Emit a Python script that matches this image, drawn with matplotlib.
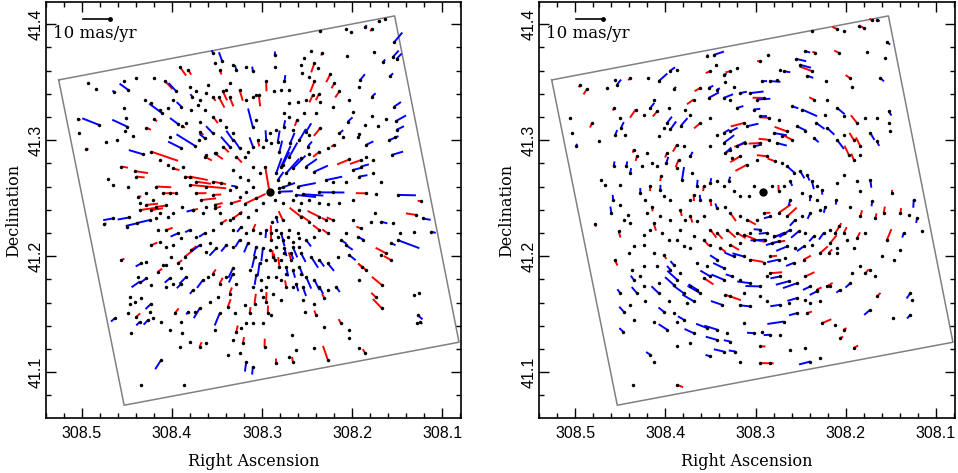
import numpy as np
import matplotlib
matplotlib.use("Agg")
import matplotlib.pyplot as plt
from matplotlib.collections import LineCollection
from matplotlib.ticker import MultipleLocator, FormatStrFormatter

# cluster centre (deg) and drawing scale of the vectors
RA0, DEC0 = 308.2917, 41.2554
ARCSEC_PER_MASYR = 8.0

# outline of the observed field (deg)
field_ra = [308.5259, 308.1527, 308.0812, 308.4532, 308.5259]
field_dec = [41.3520, 41.4072, 41.1259, 41.0716, 41.3520]

# left panel: star offsets from the centre (arcsec, east / north) and radial proper motion (mas/yr)
rad_xi = [
    -330, -347, -288, -308, -230, -245, -152, -375, -313, -233,
    -370, -382, -158, -125, -103, -95, -340, -363, -273, -270,
    -308, -375, -380, -382, -350, -308, -325, -240, -210, -195,
    -183, -135, -145, -135, -98, -120, -148, -130, -152, -190,
    -250, -235, -270, -360, -378, -368, -288, -290, -265, -220,
    -210, -193, -175, -150, -120, -152, -120, -110, -90, -62,
    -70, -83, -60, -45, -43, -25, -20, 0, -105, -140,
    -275, -240, -290, -275, -310, -250, -135, -110, -170, -192,
    -230, -310, -270, -85, -102, -150, -30, -190, -290, -320,
    -335, -385, -455, -250, -210, -175, -150, -120, -95, -318,
    -305, -335, -370, -440, -460, -485, -435, -385, -365, -275,
    -250, -265, -280, -230, -215, -230, -240, -190, -170, -150,
    -350, -365, -335, -278, -290, -338, -270, -320, -338, -435,
    -448, -445, -452, -443, -393, -95, -120, -150, -175, -85,
    -110, -135, -60, -40, -20, -35, -70, -95, -125, -150,
    -175, -205, -65, -45, -90, -110, -135, -150, -175, -200,
    -80, -50, -30, -15, -5, -20, -8, -100, -135, -165,
    -108, -140, -215, -240, -165, -175, -135, -270, -288, -240,
    -80, -68, 13, 75, 110, 85, 70, 50, 30, 10,
    -5, -25, -40, -55, -70, -90, 90, 65, 40, 20,
    0, -20, -45, -65, -90, 110, 130, 160, 180, 190,
    45, 30, 10, -10, -35, -50, -70, -95, 60, 40,
    25, 5, -20, -35, -50, -70, -100, 50, 25, 10,
    -10, -35, 120, 145, 170, 195, 220, 240, 265, 290,
    210, 235, 255, 275, 295, 312, 265, 250, 265, 290,
    230, 200, 185, 170, 150, 130, 110, 100, 120, 155,
    180, 210, 225, 150, 165, 125, 105, 75, 60, 45,
    20, 10, 5, -5, 50, 20, 70, 85, 100, 110,
    80, 90, 70, 50, 15, -20, -60, -70, 210, 190,
    240, 270, 125, 498, 470, 422, 427, 398, 360, 340,
    330, 355, 340, 370, 390, 335, 310, 275, 355, 330,
    310, 445, 385, 372, 370, 395, 390, 355, 320, 335,
    300, 310, 418, 420, 403, 385, 355, 360, 425, 400,
    465, 415, 390, 365, 350, 325, 300, 285, 265, 245,
    262, 325, 385, 257, 577, 572, 552, 492, 458, 512,
    428, 435, 410, 370, 322, 348, 275, 225, 262, 250,
    300, 265, 212, 195, 170, 210, 190, 160, 140, 120,
    110, 90, 100, 75, 65, 50, 35, 20, 10, -5,
    50, 40, 130, 110, 150, 170, 195, 215, 235, 265,
    290, 305, 330, 355, 375, 210, 545, 522, 467, 438,
    425, 400, 347, 438, 430, 315, 280, 270, 245, 238,
    220, 232, 210, 185, 152, 130, 120, 170, 90, 50,
    40, 32, 10, -12, 170, 142, 165, 150, 110, 100,
    70, 50, -15, -16, -45, -35, -60, -58, -85, -110,
    120, 140, 70, 190, -35, -50, -70, -60, -95, -115,
    50, 30, 65, 90, 110, -25, -40, -60, 20, 40,
    65, 90, -15, -40, -70, -90, 485, 470, 425, 445,
    405, 400, 380, 355, 330, 305, 290, 260, 255, 240,
    220, 170, 145, 240, 340, 320, 300, 280, 370, 395,
    390, 350, 220, 205, 170, 120, 100, 90, 70, 50,
    40, 115, 190, 165, 150, 200, 230, 262, 290, 312,
    305, 190, 165, 110, 230, 165, 195, -30, -80, -40,
    -20, -30, 110,
]
rad_eta = [
    532, 536, 511, 507, 505, 496, 500, 465, 436, 423,
    418, 413, 431, 438, 415, 394, 402, 360, 348, 326,
    296, 265, 220, 193, 226, 236, 205, 286, 312, 337,
    366, 343, 384, 400, 368, 356, 303, 301, 280, 265,
    249, 218, 179, 161, 172, 115, 208, 146, 172, 172,
    182, 146, 136, 125, 118, 198, 177, 187, 161, 151,
    193, 224, 234, 244, 203, 156, 193, 182, 244, 244,
    99, 101, 110, 79, 99, 68, 63, 79, 37, 32,
    32, 58, 48, 17, -7, -1, 1, 1, -4, -6,
    32, -9, -28, -25, -35, -37, -35, -25, -35, -66,
    -92, -92, -97, -71, -82, -123, -123, -149, -159, -113,
    -87, -139, -149, -128, -149, -165, -196, -87, -87, -77,
    -190, -211, -196, -232, -242, -289, -273, -327, -361, -320,
    -313, -382, -403, -408, -128, -77, -92, -118, -128, -128,
    -149, -139, -118, -87, -77, -128, -170, -190, -201, -211,
    -221, -201, -211, -190, -232, -263, -273, -294, -304, -294,
    -284, -253, -232, -211, -149, -118, -92, -335, -346, -330,
    -372, -382, -408, -428, -418, -520, -485, -485, -501, -454,
    -491, -444, 79, -37, -118, -108, -128, -118, -128, -118,
    -128, -139, -149, -139, -154, -144, -149, -159, -170, -175,
    -180, -170, -175, -190, -170, -170, -165, -175, -159, -185,
    -201, -221, -211, -201, -211, -232, -242, -253, -242, -258,
    -273, -263, -263, -273, -294, -294, -294, -294, -304, -294,
    -315, -335, -87, -97, -118, -128, -139, -118, -144, -165,
    -165, -180, -201, -221, -201, -227, -237, -263, -284, -284,
    -304, -273, -263, -253, -284, -263, -253, -284, -315, -325,
    -341, -361, -372, -377, -428, -356, -377, -351, -377, -346,
    -325, -341, -377, -382, -408, -408, -408, -423, -434, -460,
    -470, -501, -527, -542, -480, -532, -511, -527, -480, -470,
    -465, -480, -506, -99, -82, -79, -108, -97, -87, -82,
    -66, -56, -46, -40, -56, -118, -118, -128, -165, -154,
    -170, -211, -221, -216, -268, -263, -278, -289, -227, -247,
    -268, -294, -325, -346, -341, -330, -346, -372, -377, -387,
    -392, -439, -403, -397, -392, -403, -428, -377, -403, -372,
    -439, -520, -599, -599, 227, 182, 134, 156, 161, 208,
    203, 189, 174, 200, 244, 226, 211, 144, 205, 215,
    172, 136, 161, 167, 182, 187, 115, 120, 141, 141,
    161, 136, 110, 110, 125, 141, 161, 141, 161, 151,
    201, 224, 203, 182, 224, 234, 255, 270, 255, 265,
    286, 260, 255, 275, 286, 218, 337, 319, 311, 346,
    317, 353, 353, 260, 229, 345, 312, 389, 379, 325,
    312, 296, 286, 332, 294, 317, 294, 296, 317, 296,
    301, 301, 343, 312, 431, 405, 400, 379, 394, 379,
    389, 374, 389, 424, 343, 317, 317, 275, 280, 286,
    337, 312, 286, 306, 79, 58, 73, 110, 105, 141,
    79, 58, 37, 48, 68, 37, 17, 27, -35, -56,
    -77, -66, -25, -35, -25, -56, 39, 22, 17, 79,
    65, 48, 117, 125, 99, 84, 73, 79, 48, 48,
    32, 32, 27, 22, 17, -4, -4, -4, -4, -14,
    -35, -25, -4, -25, -9, 6, 17, -14, 1, 17,
    -20, -35, -46, -51, -66, -66, -56, -46, -66, -40,
    -77, 17, -40, -82, -56, 120, 110, 11, -9, 84,
    58, 125, -237,
]
rad_pm = [
    0.8, 0, -1.0, 1.2, 0, 0, 0, -4.8, 0, 0,
    -3.5, -2.8, 1.0, 0, 0, 0, -1.5, -1.5, -2.8, 0,
    -1.9, -3.1, -4.4, -3.1, 0, 0, 0, 0, 2.8, 2.2,
    3.5, 4.4, 0, 3.8, 0, 0, 2.5, 3.1, 0, 0,
    0, -2.5, 0, -3.8, 0, -4.4, 0, -3.1, 0, 0,
    -1.9, 1.2, 0, 3.1, 0, 3.8, 0, -3.8, -5.0, -4.4,
    0, 2.5, 0, 0, -2.5, -4.4, 0, 0, 0, 0,
    4.4, 5.0, 0, -3.1, 0, -3.8, -5.6, -5.0, -6.2, 0,
    0, 0, -3.1, -6.9, -7.5, -9.4, -5.0, 0, 3.8, 0,
    0, -6.9, 1.2, 0, 0, 0, 0, 0, 0, 0,
    0, -2.5, 0, 3.8, -3.1, -1.9, 0, -8.8, -1.9, 1.9,
    0, -2.5, 0, 0, -2.5, -3.1, -3.1, 2.5, 1.9, 5.0,
    4.4, 3.1, 0, 1.9, 3.8, 5.0, 0, 2.5, 5.0, 0,
    0, -2.5, -1.2, 0, 0, 5.6, 3.8, 3.1, 2.5, 0,
    -3.1, 0, 0, 3.8, -2.5, -3.8, -4.4, -3.8, -5.0, -3.1,
    -3.8, 0, 3.1, 0, -3.8, -5.0, -4.4, -3.1, 0, -2.5,
    -3.1, 0, 3.8, 2.5, 5.0, 0, 0, 0, 0, 1.9,
    0, 1.9, 1.9, 0, 0, 5.6, 0, 0, 1.9, 0,
    0, 0, 9.4, 8.8, 0, -2.5, 0, 2.5, 0, -3.1,
    3.1, 0, -2.5, 0, 0, 0, -3.1, -3.8, -3.8, -5.0,
    0, 0, -3.1, -2.5, 0, 0, -3.1, -3.8, 0, 0,
    -4.4, -5.0, 0, 2.5, 0, -3.8, -3.1, 0, 0, -3.8,
    0, 0, 0, 0, 2.5, 0, -3.8, 0, 0, 0,
    0, 0, 0, 2.5, 0, -2.5, 0, -1.9, 0, 0,
    -3.8, 2.5, 3.1, 1.9, 0, 0, 0, -3.8, -2.5, 0,
    -1.9, -3.8, 0, 1.9, 2.5, 0, -3.8, 0, 2.5, 0,
    0, -4.4, 0, -5.0, 0, 3.1, 0, 0, 2.5, 3.8,
    0, 3.8, 3.1, 0, 0, 0, 0, 0, 2.5, 0,
    2.5, 0, -3.8, -3.1, 3.1, 1.9, 0, 1.9, 1.9, 0,
    0, 0, 0, 1.0, -3.8, -4.4, 0, -4.4, -5.0, 0,
    0, 4.4, 3.8, 4.4, 6.2, 0, 2.5, -3.1, 2.5, 0,
    0, 1.2, -2.5, 0, -3.1, 0, -3.8, 0, 0, 1.9,
    -2.5, 0, 0, 0, 0, 0, -3.1, 0, 0, 1.9,
    -1.9, 0, -1.9, -2.5, 0, 0, 0, 2.5, 0, -1.2,
    0, -4.4, 0, 0, 1.2, 0, 1.0, 0, 0, -6.9,
    -6.2, 0, 0, 1.9, -6.2, 1.5, -3.8, -8.1, 1.2, 0,
    0, -5.6, 0, -2.5, -3.8, 1.9, 0, 0, 3.1, -5.0,
    -4.4, -3.8, 3.1, 0, 0, -3.8, 2.5, 0, -3.8, 0,
    -7.5, 0, 0, 0, 0, 3.1, 0, 0, 0, -2.5,
    0, 0, 0, 0, 0, 0, 0, 0, -0.8, 0,
    -4.0, 0, 0, 0, 0, 4.4, -4.4, 4.2, 2.2, 0,
    0, -1.2, 0, 0, 4.5, 0, 3.8, 1.9, 4.4, 0,
    0, 4.4, 3.8, 0, -1.2, -3.8, 0, 1.9, 0, -1.9,
    0, -1.9, 0, -1.5, -2.5, 0, 0, 0, 0, 0,
    0, 3.8, 0, 0, -8.8, -7.5, -6.9, -6.2, 0, -2.5,
    0, 0, 0, 0, 0, -3.8, 0, 0, 0, 0,
    0, 0, 0, 0, 0, 0, 0, 0, 0, 2.5,
    5.0, 3.1, -5.6, 10.6, 0, 0, 2.5, 0, 3.1, 6.9,
    5.6, 5.0, 0, 6.2, 5.6, 4.4, 0, 0, 0, 1.2,
    0, 0, 3.8, 5.6, 3.1, 0, -1.9, 0, 0, 0,
    0, 3.8, 0, 2.5, 0, 0, 1.9, 0, 0, 0,
    0, 7.5, 3.1, 4.4, -2.5, 3.8, 3.1, -6.2, -7.5, -5.6,
    -6.2, -4.4, -4.0,
]

# right panel: star offsets (arcsec, east / north) and tangential proper motion (mas/yr)
tan_xi = [
    -327, -342, -287, -302, -222, -242, -147, -372, -312, -227,
    -367, -127, -157, -100, -110, -147, -132, -190, -260, -267,
    -352, -50, -62, -15, 8, 78, 98, 118, 168, 146,
    140, 158, 188, 163, 138, 118, 163, 208, 258, 280,
    268, 313, 346, 398, 443, 468, 438, 528, 548, 578,
    573, 560, 493, 513, 446, 430, 426, 443, 413, 382,
    356, 328, 338, 318, 283, 288, 278, 298, 313, 233,
    246, 218, 113, 88, 68, 38, 18, -4, -22, -42,
    3, 98, 78, 28, 8, -17, -47, 58, 48, 98,
    118, 138, 118, 158, 188, 158, -87, -117, -152, -192,
    -222, -242, -187, -160, -192, -222, -242, -282, -307, -272,
    -292, -257, -272, -292, -342, -377, -382, -377, -322, -342,
    -152, -127, -102, -72, -87, -57, -32, -42, -17, 8,
    28, 53, 78, 98, 113, 93, 68, 48, 18, -12,
    -37, -57, -72, -92, -112, -132, -147, -162, -177, -82,
    -62, -47, -27, 28, 43, 68, 88, 103, 118, 138,
    158, 178, 198, 208, 218, 188, 158, 138, 113, 98,
    68, 48, 18, -2, -22, -47, -72, -97, -117, -142,
    -172, -187, -82, -117, -142, -162, 158, 138, 108, 78,
    58, 38, 8, -12, -32, -62, -82, -107, -127, -152,
    -182, 178, 158, 128, 98, 68, 28, -7, -27, -47,
    -72, -97, -122, -147, -172, -202, -217, -202, -222, 88,
    58, 38, -2, -22, -47, -67, -92, -122, 138, 118,
    168, 198, 158, 118, 93, 68, 38, 8, -12, -22,
    -52, -77, -102, -127, -142, -162, 178, 113, 198, 218,
    258, 248, 278, 268, 238, 208, 228, 188, 123, 98,
    58, 68, 38, 8, -12, -52, -77, -102, -127, -162,
    -192, 388, 418, 428, 398, 378, 358, 353, 388, 368,
    313, 313, 283, 268, 298, 328, 288, 420, 258, 238,
    208, 168, 138, 108, 138, 98, 118, 83, 158, 218,
    258, 58, 28, 3, 8, -22, -52, -62, -102, -142,
    -132, -172, -177, -217, -242, -232, -82, -127, -142, -172,
    68, 8, -22, 338, 328, 390, 258, -272, 486, 473,
    448, 428, 410, 398, 450, 455, 428, 405, 400, 418,
    503, 433, 445, 403, 388, 358, 368, 353, 338, 333,
    308, 298, 278, 318, 306, 363, 388, 378, 348, 333,
    288, 290, 258, 238, 253, 218, 243, 213, 258, 248,
    233, 218, 198, 178, 208, 248, 278, 308, 328, 348,
    338, 303, 283, 258, 238, 218, 358, 328, 298, 268,
    318, 358, 393, -322, -327, -282, -292, -242, -222, -220,
    -262, -292, -337, -362, -387, -412, -437, -452, -462, -422,
    -477, -372, -357, -392, -412, -307, -282, -272, -252, -242,
    -227, -307, -322, -337, -292, -342, -322, -267, -262, -442,
    -447, -390, -442, -202, -232, -222, -197,
]
tan_eta = [
    533, 535, 514, 509, 506, 499, 501, 465, 434, 432,
    416, 437, 432, 413, 395, 375, 361, 344, 354, 326,
    354, 380, 375, 426, 406, 385, 375, 364, 423, 426,
    395, 375, 323, 323, 318, 292, 292, 287, 380, 375,
    320, 344, 354, 354, 349, 323, 333, 320, 333, 230,
    183, 142, 157, 214, 261, 230, 199, 178, 178, 256,
    240, 287, 261, 250, 261, 214, 194, 199, 173, 256,
    206, 240, 341, 326, 307, 307, 287, 292, 344, 349,
    344, 287, 261, 256, 235, 230, 225, 214, 204, 188,
    183, 178, 152, 142, 214, 230, 266, 256, 287, 287,
    261, 235, 240, 214, 199, 162, 178, 214, 230, 162,
    142, 116, 100, 116, 157, 214, 188, 250, 183, 230,
    168, 188, 204, 188, 162, 173, 183, 152, 162, 152,
    142, 152, 142, 131, 121, 106, 111, 85, 100, 111,
    95, 90, 80, 59, 64, 54, 33, 18, 7, 33,
    18, 2, 18, 18, -13, -13, 2, 33, 18, 33,
    28, 18, 18, -8, -24, -24, -24, -50, -45, -65,
    -76, -86, -86, -65, -76, -65, -76, -86, -76, -65,
    -55, -45, -24, -3, -13, -24, -117, -127, -117, -127,
    -132, -127, -117, -127, -138, -127, -117, -122, -127, -138,
    -127, -148, -164, -174, -164, -158, -148, -148, -158, -153,
    -169, -174, -169, -164, -189, -158, -127, -117, -174, -200,
    -200, -210, -220, -200, -210, -205, -220, -210, -210, -236,
    -231, -220, -262, -272, -262, -272, -283, -293, -262, -252,
    -262, -277, -283, -262, -293, -303, -267, -319, -303, -293,
    -272, -252, -241, -288, -314, -339, -345, -314, -350, -324,
    -314, -350, -355, -324, -339, -350, -345, -329, -334, -308,
    -293, -396, -371, -314, -350, -314, -293, -339, -272, -262,
    -283, -314, -339, -376, -371, -402, -427, -433, -402, -396,
    -438, -422, -427, -438, -459, -464, -495, -495, -510, -469,
    -479, -407, -438, -433, -479, -443, -443, -402, -376, -345,
    -376, -339, -407, -412, -427, -453, -490, -484, -526, -515,
    -526, -531, -531, -505, -526, -598, -598, -484, 38, 23,
    80, 23, 80, 59, -24, -65, -39, -70, -96, -86,
    -98, -122, -210, -189, -169, -132, -3, -24, 18, -45,
    7, -13, -24, 80, 49, 80, 131, 111, 121, 90,
    121, 90, 147, 142, 100, 111, 38, 59, 75, -55,
    -86, -76, -91, -76, -138, -117, -86, -76, -96, -65,
    -117, -127, -148, -148, -169, -174, -164, -189, -195, -226,
    -231, -231, -241, 38, -29, 33, 2, 54, 28, -24,
    -45, -76, -81, -65, -3, -65, -70, -24, -81, -127,
    -122, -148, -200, -210, -179, -127, -143, -174, -148, -127,
    -107, -252, -241, -262, -231, -324, -365, -252, -283, -314,
    -334, -391, -381, -293, -303, -189, -189,
]
tan_pm = [
    1.2, -1.2, -1.0, 1.2, 1.9, 0, 0, -1.5, 0, 1.9,
    0, -1.9, 1.2, -3.8, -4.4, 5.0, -2.5, 0, 1.9, 0,
    -1.9, 0, -2.5, 0, 1.2, 0, 1.9, -1.2, -0.6, -3.8,
    0, 1.9, 2.5, -1.9, -1.2, -3.8, -4.4, 3.1, 0, -2.5,
    -1.2, -4.4, 0, 1.2, 0, 0, -2.5, 2.5, 1.2, 0,
    0, -1.0, 0, 1.9, 1.2, 0, -2.5, -1.9, 0, 3.8,
    0, 0, -2.5, 2.5, 0, -3.1, -3.8, 0, 0, 0,
    -3.8, 0, 0, 0, -2.5, -5.0, -5.0, 4.4, -3.8, 0,
    -1.9, 0, -2.5, -2.5, -2.5, 3.1, 0, 5.0, -4.4, -3.1,
    -2.5, 0, -5.0, 0, 3.1, 0, -2.5, -6.2, 1.9, 0,
    -3.8, 0, 0, -3.8, -3.8, -4.4, 0, 3.8, 0, 3.1,
    3.8, 3.8, 2.5, 0, -1.9, 0, 0, -1.9, -3.1, 0,
    -2.5, 0, -3.8, 5.0, 3.8, 0, -5.0, -3.8, 3.8, 4.4,
    -3.1, 4.4, -3.8, 2.5, -3.1, 0, 4.4, 5.0, 0, 3.8,
    3.1, 0, -3.8, 0, -3.1, -2.5, -3.1, 0, -1.9, -1.9,
    0, 2.5, 0, 0, 0, 0, 0, -1.9, 0, 0,
    -1.9, 1.9, -2.5, 2.5, 0, -1.9, 2.5, -1.9, 0, 3.8,
    0, 3.8, 0, 2.5, -2.5, 5.6, 5.0, -3.1, 0, -2.5,
    0, -2.5, -2.5, 0, -1.9, 0, 3.8, 3.1, 4.4, 3.8,
    5.0, 0, -2.5, -3.1, 5.0, -4.4, -5.0, -3.8, 0, -2.5,
    -3.1, 3.1, 0, 2.5, 3.8, 0, 4.4, -5.6, 5.0, -5.0,
    -4.4, 0, -3.1, 0, 3.8, 3.8, 4.4, 0, 0, -3.8,
    -4.4, 5.0, 0, 2.5, -4.4, 0, -3.1, 3.1, -3.1, -4.4,
    0, 0, -4.4, -5.0, -2.5, 0, -5.0, -5.6, 0, 4.4,
    -3.8, -5.0, -5.6, 3.8, -3.1, 1.9, 4.4, 6.2, -3.8, 0,
    -5.0, 0, -1.9, -4.4, -5.0, -5.0, 0, -5.6, -4.4, 0,
    0, 0, -3.8, 0, 0, -3.8, 0, -3.8, 0, -3.1,
    2.5, 0, -2.5, -1.9, 0, -3.1, 0, 0, -1.9, 0,
    0, -3.8, 0, 0, -2.5, 0, -3.8, -1.9, 0, -2.5,
    -3.8, -4.4, -5.0, 0, -4.4, -2.5, -3.8, -2.5, -1.9, 0,
    0, 0, -2.5, 0, 1.9, -2.5, 0, -6.2, -3.1, 0,
    1.9, 0, 3.8, 0, 1.2, 1.2, 0, 0, -4.4, 0,
    0, 5.0, 0, -1.9, 0, 0, 2.5, 1.9, 0, 0,
    -1.9, 0, -1.9, -1.9, -1.9, -2.5, 0, 0, 0, 0,
    1.2, 2.5, 2.5, 0, 0, 0, -1.9, 0, 1.9, 1.9,
    -1.9, 0, 0, 0, 1.9, 0, 1.2, 1.9, 0, 0,
    1.9, -2.5, 3.1, 0, 3.1, -1.9, -5.0, 0, 0, 2.5,
    0, 2.5, 0, 0, 0, 0, 0, 0, 3.1, 0,
    0, 0, 0, 0, 0, 0, 0, 0, 1.9, -1.9,
    0, 0, 0, -3.1, -1.9, 0, 0, 0, 0, -1.9,
    0, 2.5, 1.9, 2.5, 1.2, 1.9, 0, -3.1, -1.9, -1.9,
    0, 4.4, 0, 0, 0, 0, 2.5, 0, 0, 2.5,
    0, 1.9, 0, 0, 0, 1.9, -3.1, 0, -2.5, -2.5,
    0, 0, -1.9, 0, -1.9, 0, 1.9,
]


def to_radec(xi, eta):
    ra = RA0 + np.asarray(xi) / (3600.0 * np.cos(np.radians(DEC0)))
    dec = DEC0 + np.asarray(eta) / 3600.0
    return ra, dec


def vector_panel(ax, xi, eta, pm, tangential=False):
    n = min(len(xi), len(eta), len(pm))
    xi = np.array(xi[:n], float)
    eta = np.array(eta[:n], float)
    pm = np.array(pm[:n], float)
    r = np.hypot(xi, eta)
    r[r == 0] = 1.0
    ux, uy = xi / r, eta / r
    if tangential:
        ux, uy = -uy, ux
    ex = xi - ARCSEC_PER_MASYR * pm * ux
    ey = eta - ARCSEC_PER_MASYR * pm * uy
    ra, dec = to_radec(xi, eta)
    ra2, dec2 = to_radec(ex, ey)

    ax.plot(field_ra, field_dec, color='#808080', lw=1.1, zorder=1)
    for sel, col in ((pm > 0, 'red'), (pm < 0, 'blue')):
        segs = np.stack([np.column_stack([ra[sel], dec[sel]]),
                         np.column_stack([ra2[sel], dec2[sel]])], axis=1)
        ax.add_collection(LineCollection(segs, colors=col, linewidths=1.4, zorder=2))
    ax.plot(ra, dec, 'o', ms=2.5, color='black', mec='none', zorder=3)
    ax.plot(RA0, DEC0, 'o', ms=6, color='black', mec='none', zorder=4)

    ax.set_xlim(308.540, 308.079)
    ax.set_ylim(41.0606, 41.4192)

    # 10 mas/yr scale arrow
    x0 = 308.540 - 0.0892 * (308.540 - 308.079)
    y0 = 41.0606 + 0.959 * (41.4192 - 41.0606)
    dx = 10 * ARCSEC_PER_MASYR / (3600.0 * np.cos(np.radians(DEC0)))
    ax.plot([x0, x0 - dx], [y0, y0], color='black', lw=1.2, zorder=4)
    ax.plot(x0 - dx, y0, 'o', ms=3.5, color='black', mec='none', zorder=4)
    ax.text(0.017, 0.914, '10 mas/yr', transform=ax.transAxes, ha='left', va='baseline',
            fontsize=12, family='DejaVu Serif')

    ax.xaxis.set_major_locator(MultipleLocator(0.1))
    ax.xaxis.set_minor_locator(MultipleLocator(0.02))
    ax.yaxis.set_major_locator(MultipleLocator(0.1))
    ax.yaxis.set_minor_locator(MultipleLocator(0.02))
    ax.xaxis.set_major_formatter(FormatStrFormatter('%.1f'))
    ax.yaxis.set_major_formatter(FormatStrFormatter('%.1f'))
    ax.tick_params(which='both', direction='in', top=True, right=True, width=1.0,
                   labelsize=11.5)
    ax.tick_params(which='major', length=7, pad=6)
    ax.tick_params(which='minor', length=3.5)
    ax.tick_params(axis='y', labelrotation=90, pad=1.5)
    plt.setp(ax.get_yticklabels(), va='center', family='Liberation Sans')
    plt.setp(ax.get_xticklabels(), family='Liberation Sans')
    for s in ax.spines.values():
        s.set_linewidth(1.2)
    ax.set_xlabel('Right Ascension', family='DejaVu Serif', fontsize=11.5, labelpad=8.5)
    ax.set_ylabel('Declination', family='DejaVu Serif', fontsize=11.5, labelpad=5)


fig = plt.figure(figsize=(9.58, 4.73), dpi=100)
ax1 = fig.add_axes([0.0480, 0.1163, 0.4332, 0.8795])
ax2 = fig.add_axes([0.5626, 0.1163, 0.4342, 0.8795])
vector_panel(ax1, rad_xi, rad_eta, rad_pm)
vector_panel(ax2, tan_xi, tan_eta, tan_pm, tangential=True)
fig.savefig('out.png', dpi=100)
